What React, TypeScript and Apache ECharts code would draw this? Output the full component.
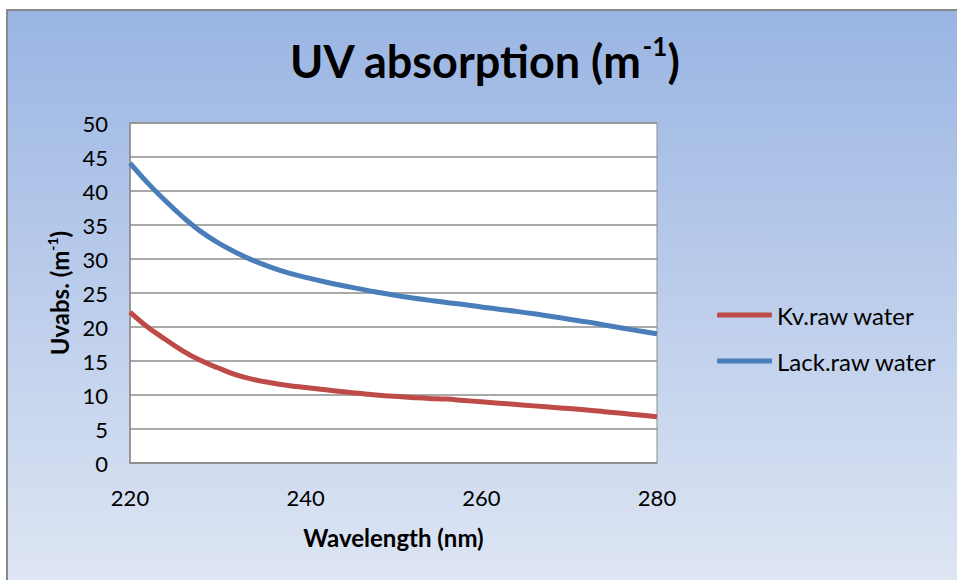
import React, { useEffect, useRef } from "react";
import * as echarts from "echarts";

const wavelengths = [220, 222, 224, 226, 228, 230, 232, 234, 236, 238, 240, 242, 244, 246, 248, 250, 252, 254, 256, 258, 260, 262, 264, 266, 268, 270, 272, 274, 276, 278, 280];
const kvRaw = [22.2, 20.0, 18.2, 16.5, 15.1, 14.0, 13.0, 12.3, 11.8, 11.4, 11.1, 10.8, 10.5, 10.25, 10.0, 9.8, 9.65, 9.5, 9.4, 9.2, 9.0, 8.8, 8.6, 8.4, 8.2, 8.0, 7.8, 7.55, 7.3, 7.05, 6.8];
const lackRaw = [44.1, 41.2, 38.6, 36.2, 34.1, 32.4, 31.0, 29.8, 28.8, 27.95, 27.3, 26.7, 26.15, 25.65, 25.15, 24.7, 24.3, 23.95, 23.6, 23.3, 22.95, 22.6, 22.3, 21.95, 21.55, 21.15, 20.75, 20.3, 19.85, 19.4, 19.0];
const seriesNames = ["Kv.raw water", "Lack.raw water"];

const FONT = "Lato, 'Open Sans', sans-serif";

export default function App() {
  const ref = useRef<HTMLDivElement>(null);
  useEffect(() => {
    if (!ref.current) return;
    const chart = echarts.init(ref.current, null, { renderer: "svg" });
    chart.setOption({
      animation: false,
      textStyle: { fontFamily: FONT },
      graphic: [
        {
          type: "rect",
          z: -10,
          silent: true,
          shape: { x: 7, y: 10, width: 970, height: 590 },
          style: {
            fill: new echarts.graphic.LinearGradient(0, 0, 0, 1, [
              { offset: 0, color: "#9AB5E3" },
              { offset: 1, color: "#E0E7F4" },
            ]),
            stroke: "#888888",
            lineWidth: 2,
          },
        },
        {
          type: "text",
          left: 290,
          top: 33,
          style: {
            text: "{a|UV absorption (m}{s|-1}{a|)}",
            rich: {
              a: { fontSize: 45, fontWeight: "bold", fontFamily: FONT, fill: "#000", verticalAlign: "bottom" },
              s: { fontSize: 26, fontWeight: "bold", fontFamily: FONT, fill: "#000", verticalAlign: "top", padding: [0, 0, 24, 0] },
            },
          },
        },
      ],
      legend: {
        orient: "vertical",
        left: 712,
        top: 298,
        icon: "roundRect",
        itemWidth: 55,
        itemHeight: 5,
        itemGap: 22,
        textStyle: { fontSize: 24, color: "#000", fontFamily: FONT },
        data: seriesNames,
      },
      grid: {
        left: 130,
        top: 123,
        width: 527,
        height: 340,
        show: true,
        backgroundColor: "#ffffff",
        borderColor: "#8c8c8c",
        borderWidth: 1,
      },
      xAxis: {
        type: "value",
        min: 220,
        max: 280,
        interval: 20,
        name: "Wavelength (nm)",
        nameLocation: "middle",
        nameGap: 62,
        nameTextStyle: { fontSize: 24, fontWeight: "bold", color: "#000", fontFamily: FONT },
        axisLine: { show: true, lineStyle: { color: "#8c8c8c", width: 1.5 } },
        axisTick: { show: false },
        splitLine: { show: false },
        axisLabel: { fontSize: 22, color: "#000", margin: 23, fontFamily: FONT },
      },
      yAxis: {
        type: "value",
        min: 0,
        max: 50,
        interval: 5,
        name: "{a|Uvabs. (m}{s|-1}{a|)}",
        nameLocation: "middle",
        nameGap: 58,
        nameRotate: 90,
        nameTextStyle: {
          rich: {
            a: { fontSize: 24, fontWeight: "bold", color: "#000", fontFamily: FONT, verticalAlign: "bottom" },
            s: { fontSize: 14, fontWeight: "bold", color: "#000", fontFamily: FONT, verticalAlign: "top", padding: [0, 0, 12, 0] },
          },
        },
        axisLine: { show: true, lineStyle: { color: "#8c8c8c", width: 1.5 } },
        axisTick: { show: false },
        splitLine: { show: true, lineStyle: { color: "#8c8c8c", width: 1.5 } },
        axisLabel: { fontSize: 22, color: "#000", margin: 22, fontFamily: FONT },
      },
      series: [
        {
          name: seriesNames[0],
          type: "line",
          data: wavelengths.map((w, i) => [w, kvRaw[i]]),
          smooth: 0.4,
          symbol: "none",
          lineStyle: { width: 5, color: "#BE4B48" },
          itemStyle: { color: "#BE4B48" },
        },
        {
          name: seriesNames[1],
          type: "line",
          data: wavelengths.map((w, i) => [w, lackRaw[i]]),
          smooth: 0.4,
          symbol: "none",
          lineStyle: { width: 5, color: "#4A7EBB" },
          itemStyle: { color: "#4A7EBB" },
        },
      ],
    });
    return () => chart.dispose();
  }, []);
  return (
    <div
      ref={ref}
      style={{ position: "absolute", left: 0, top: 0, width: 957, height: 580 }}
    />
  );
}
